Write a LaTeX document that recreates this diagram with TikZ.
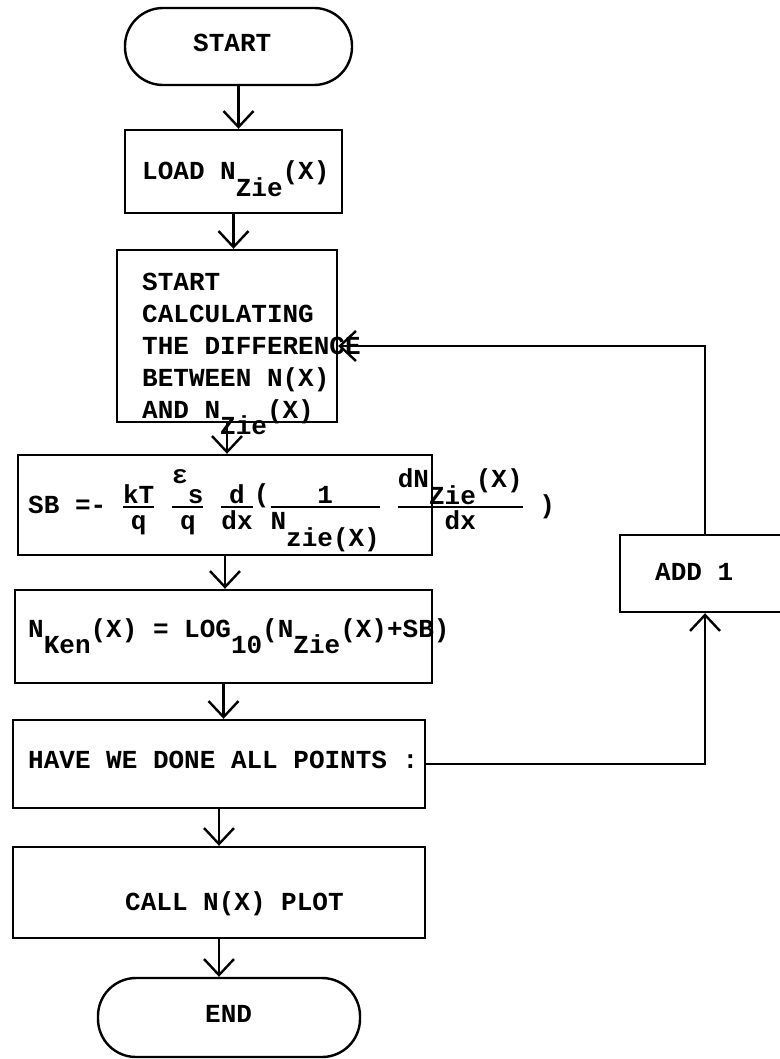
\documentclass[tikz,border=0pt]{standalone}
\usepackage{amsmath}
\usepackage{fontspec}
\setmainfont{Liberation Mono}
\usetikzlibrary{arrows.meta}

\newcommand{\lo}[1]{\raisebox{-0.65em}{#1}}
\newcommand{\frc}[2]{$\genfrac{}{}{1.6pt}{1}{\hbox{#1}}{\hbox{\rule{0pt}{0.8em}#2}}$}

\tikzset{
  box/.style={draw, line width=2.4pt, inner sep=0pt},
  term/.style={box, rounded corners=38pt},
  txt/.style={inner sep=0pt, anchor=base west, font=\fontsize{26}{32}\selectfont\bfseries},
  flow/.style={line width=2.4pt, -{Straight Barb[length=16pt,width=30pt]}}
}

\begin{document}
\begin{tikzpicture}[x=1pt,y=-1pt]
			\useasboundingbox (0,0) rectangle (779,1059);
			% boxes
			\node[term, minimum width=227pt, minimum height=77pt] (start) at (238.5,46.5) {};
			\node[box, minimum width=217pt, minimum height=83pt] (load) at (233.5,171.5) {};
			\node[box, minimum width=220pt, minimum height=172pt] (calc) at (227,336) {};
			\node[box, minimum width=414pt, minimum height=100pt] (sb) at (225,505) {};
			\node[box, minimum width=417pt, minimum height=93pt] (ken) at (223.5,636.5) {};
			\node[box, minimum width=412pt, minimum height=88pt] (have) at (219,764) {};
			\node[box, minimum width=412pt, minimum height=91pt] (call) at (219,892.5) {};
			\node[term, minimum width=262pt, minimum height=79pt] (endn) at (229,1017.5) {};
			\node[box, minimum width=170pt, minimum height=77pt] (add) at (705,573.5) {};
			% texts
			\node[txt] (start-t) at (193,52) {START};
			\node[txt] (load-t) at (142,180) {LOAD N\lo{Zie}(X)};
			\foreach \ln [count=\i] in {START, CALCULATING, THE DIFFERENCE, BETWEEN N(X), AND N\lo{Zie}(X)}
				\node[txt] (calc-t\i) at (142,258+32*\i) {\ln};
			\node[txt] (sb-t) at (28,513) {SB =-~\frc{kT}{q}~\frc{\raisebox{0.75em}{ε}s}{q}~\frc{d}{dx}\raisebox{0.4em}{(}\frc{1}{N\lo{zie(X)}}~\frc{dN\lo{Zie}(X)}{dx}~)};
			\node[txt] (ken-t) at (28,637) {N\lo{Ken}(X) = LOG\lo{10}(N\lo{Zie}(X)+SB)};
			\node[txt] (have-t) at (28,768) {HAVE WE DONE ALL POINTS :};
			\node[txt] (call-t) at (125,910) {CALL N(X) PLOT};
			\node[txt] (end-t) at (205,1022) {END};
			\node[txt] (add-t) at (655,580) {ADD 1};
			% arrows
			\draw[flow] (start.south) -- (start.south |- load.north);
			\draw[flow] (load.south) -- (load.south |- calc.north);
			\draw[flow] (calc.south) -- (calc.south |- sb.north);
			\draw[flow] (sb.south) -- (sb.south |- ken.north);
			\draw[flow] (ken.south) -- (ken.south |- have.north);
			\draw[flow] (have.south) -- (have.south |- call.north);
			\draw[flow] (call.south) -- (call.south |- endn.north);
			% loop back
			\draw[flow] (have.east) -| (add.south);
			\draw[flow] (add.north) |- ([yshift=-10pt]calc.east);
\end{tikzpicture}
\end{document}
